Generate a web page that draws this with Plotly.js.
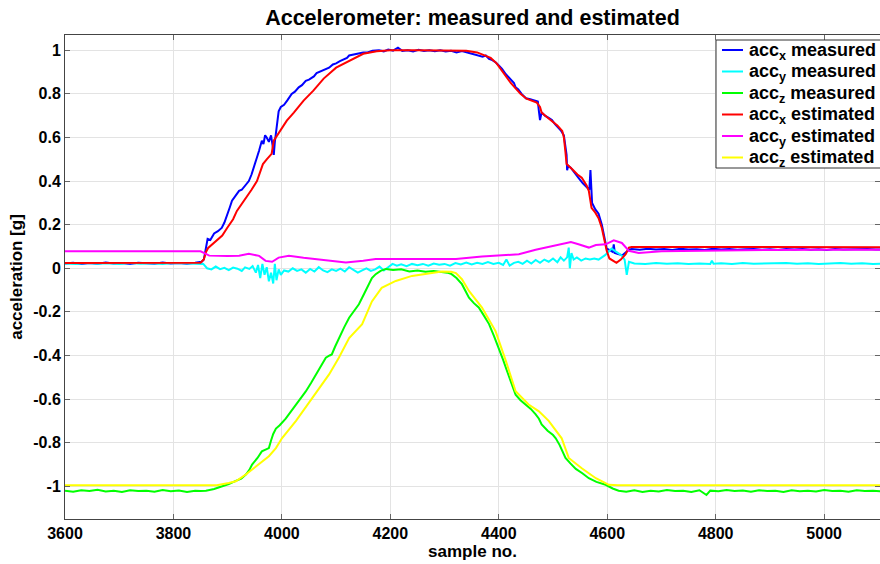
<!DOCTYPE html>
<html>
<head>
<meta charset="utf-8">
<script src="https://cdn.plot.ly/plotly-3.0.1.min.js"></script>
<style>
html,body{margin:0;padding:0;background:#fff;}
#chart{width:880px;height:564px;}
</style>
</head>
<body>
<div id="chart"></div>
<script>
// ---- accX measured (blue) ----
const axMeasX = [3600,3615,3630,3645,3660,3675,3690,3705,3720,3735,3750,3765,3780,3795,3810,3825,3840,3852,
 3856,3860,3863,3868,3875,3882,3889,3894,3899,3904,3908,3914,3921,3926,3932,3936,3939,3944,3948,3951,3954,3958,3963,3966,3969,3972,3976,3980,3983,3985,3987,3989,3992,3994,3998,4004,4010,4018,4024,4031,4037,4044,4050,4059,4064,4068,4076,4087,4094,4100,4107,4114,4120,4124,4133,4142,4150,4158,4167,4179,4188,4196,4205,4214,4222,4232,4242,4252,4262,4272,4282,4292,4302,4312,4322,4332,4342,4352,4362,4370,4376,4382,4388,4394,4400,4406,4413,4418,4424,4428,4431,4436,4442,4450,4458,4466,4472,4474,4476,4479,4485,4492,4498,4504,4510,4515,4520,4522,4525,4526,4528,4533,4540,4547,4555,4562,4567,4569,4570,4572,4578,4584,4590,4594,4597,4599,4603,4606,4610,4612,4614,4620,4628,4635,4640,4645,
 4660,4675,4690,4705,4720,4735,4750,4765,4780,4795,4810,4825,4840,4855,4870,4885,4900,4915,4930,4945,4960,4975,4990,5005,5020,5035,5050,5065,5080,5095,5110];
const axMeasY = [0.022,0.025,0.020,0.024,0.021,0.026,0.022,0.024,0.020,0.025,0.023,0.021,0.026,0.022,0.024,0.021,0.025,0.030,
 0.040,0.100,0.135,0.130,0.160,0.170,0.185,0.210,0.250,0.280,0.310,0.330,0.355,0.360,0.380,0.390,0.400,0.430,0.460,0.480,0.510,0.540,0.585,0.570,0.610,0.600,0.580,0.610,0.560,0.520,0.580,0.620,0.680,0.720,0.740,0.750,0.770,0.800,0.810,0.830,0.840,0.860,0.865,0.880,0.895,0.900,0.910,0.920,0.935,0.940,0.950,0.960,0.965,0.976,0.980,0.985,0.990,0.990,0.998,1.000,0.995,1.003,0.998,1.012,0.997,1.000,0.995,1.002,0.997,1.000,0.995,1.000,0.994,0.998,0.990,0.997,0.990,0.985,0.978,0.970,0.976,0.960,0.955,0.945,0.930,0.915,0.890,0.875,0.860,0.850,0.830,0.820,0.800,0.780,0.775,0.770,0.765,0.720,0.680,0.715,0.700,0.690,0.680,0.660,0.645,0.630,0.610,0.580,0.520,0.450,0.470,0.460,0.440,0.415,0.390,0.370,0.360,0.450,0.360,0.300,0.270,0.250,0.200,0.150,0.130,0.090,0.085,0.080,0.075,0.110,0.070,0.065,0.060,0.075,0.085,0.088,
 0.085,0.090,0.086,0.088,0.084,0.089,0.086,0.087,0.084,0.090,0.086,0.088,0.085,0.087,0.089,0.085,0.087,0.084,0.088,0.086,0.089,0.085,0.087,0.084,0.088,0.086,0.087,0.085,0.088,0.086,0.087];

// ---- accY measured (cyan) ----
const ayMeasX = [3600,3620,3640,3660,3680,3700,3720,3740,3760,3780,3800,3820,3840,3855,3862,3870,3878,3886,3894,3902,3910,3918,3926,3932,3940,3946,3952,3956,3960,3964,3968,3972,3976,3980,3984,3987,3990,3994,3998,4004,4012,4020,4028,4036,4044,4052,4060,4068,4076,4084,4092,4100,4108,4116,4124,4132,4140,4148,4156,4164,4172,4180,4188,4196,4204,4212,4220,4230,4240,4250,4260,4270,4280,4290,4300,4310,4320,4330,4340,4350,4360,4370,4380,4390,4400,4408,4414,4420,4428,4436,4444,4452,4460,4468,4476,4484,4492,4500,4508,4514,4520,4526,4529,4531,4534,4538,4544,4552,4560,4568,4576,4584,4590,4596,4602,4608,4614,4620,4626,4632,4636,4640,4650,4670,4690,4710,4730,4750,4770,4790,4793,4796,4810,4830,4850,4870,4890,4910,4930,4950,4970,4990,5010,5030,5050,5070,5090,5110];
const ayMeasY = [0.022,0.020,0.024,0.021,0.023,0.020,0.024,0.021,0.023,0.020,0.024,0.022,0.021,0.020,0.000,-0.005,0.008,-0.004,0.002,-0.008,0.003,-0.002,-0.012,0.004,-0.003,0.010,-0.020,0.015,-0.045,0.020,-0.030,0.005,-0.060,-0.020,-0.070,0.020,-0.055,-0.005,-0.030,-0.010,-0.015,0.000,-0.012,-0.005,-0.020,-0.003,-0.015,0.005,-0.010,-0.018,-0.005,-0.012,-0.002,-0.015,0.005,-0.008,-0.020,-0.010,0.000,-0.012,-0.005,0.008,-0.010,0.005,0.020,0.012,0.018,0.010,0.020,0.014,0.020,0.012,0.022,0.016,0.020,0.012,0.024,0.018,0.026,0.018,0.025,0.020,0.028,0.020,0.025,0.015,0.040,0.012,0.025,0.030,0.020,0.035,0.022,0.038,0.025,0.040,0.030,0.045,0.028,0.050,0.035,0.050,0.095,0.000,0.070,0.040,0.050,0.035,0.045,0.040,0.045,0.040,0.050,0.060,0.075,0.090,0.080,0.070,0.060,0.040,-0.030,0.030,0.022,0.020,0.024,0.021,0.023,0.020,0.022,0.020,0.035,0.021,0.023,0.020,0.024,0.021,0.022,0.020,0.024,0.021,0.023,0.020,0.022,0.024,0.021,0.023,0.020,0.022];

// ---- accZ measured (green) ----
const azMeasX = [3600,3615,3630,3645,3660,3675,3690,3705,3720,3735,3750,3765,3780,3795,3810,3825,3840,3850,3860,3875,3890,3902,3915,3925,3934,3940,3945,3950,3955,3963,3970,3976,3980,3984,3989,3996,4007,4016,4026,4035,4044,4054,4063,4072,4081,4088,4092,4098,4105,4115,4124,4133,4142,4151,4160,4166,4173,4182,4192,4205,4220,4235,4250,4265,4280,4290,4305,4313,4322,4332,4338,4345,4354,4363,4372,4382,4391,4400,4408,4415,4423,4431,4440,4450,4459,4468,4474,4479,4490,4500,4505,4512,4518,4523,4532,4542,4554,4566,4580,4597,4610,4621,4635,4650,4665,4680,4695,4710,4725,4740,4755,4770,4783,4790,4805,4820,4835,4850,4865,4880,4895,4910,4925,4940,4955,4970,4985,5000,5015,5030,5045,5060,5075,5090,5105];
const azMeasY = [-1.020,-1.025,-1.018,-1.022,-1.016,-1.024,-1.020,-1.026,-1.018,-1.022,-1.020,-1.025,-1.017,-1.023,-1.019,-1.026,-1.020,-1.022,-1.020,-1.012,-1.000,-0.990,-0.975,-0.965,-0.945,-0.925,-0.900,-0.885,-0.870,-0.840,-0.830,-0.825,-0.790,-0.760,-0.735,-0.720,-0.690,-0.660,-0.625,-0.600,-0.565,-0.525,-0.485,-0.445,-0.410,-0.400,-0.395,-0.360,-0.320,-0.270,-0.227,-0.195,-0.165,-0.120,-0.073,-0.045,-0.027,-0.012,-0.003,-0.008,-0.005,-0.015,-0.010,-0.016,-0.012,-0.015,-0.020,-0.027,-0.045,-0.073,-0.100,-0.135,-0.160,-0.180,-0.215,-0.256,-0.310,-0.365,-0.420,-0.470,-0.530,-0.580,-0.605,-0.625,-0.645,-0.670,-0.690,-0.716,-0.745,-0.765,-0.780,-0.810,-0.840,-0.870,-0.895,-0.920,-0.940,-0.963,-0.980,-0.993,-1.010,-1.020,-1.025,-1.018,-1.026,-1.020,-1.024,-1.017,-1.022,-1.020,-1.026,-1.018,-1.040,-1.020,-1.023,-1.017,-1.022,-1.019,-1.025,-1.018,-1.022,-1.020,-1.026,-1.018,-1.023,-1.020,-1.024,-1.017,-1.022,-1.020,-1.025,-1.018,-1.022,-1.020,-1.023];

// ---- accX estimated (red) ----
const axEstX = [3600,3700,3800,3850,3856,3860,3864,3872,3880,3890,3899,3910,3917,3926,3935,3944,3954,3960,3965,3972,3981,3985,3994,4009,4022,4040,4058,4077,4100,4124,4150,4175,4200,4250,4300,4340,4360,4376,4385,4396,4405,4414,4422,4431,4440,4451,4461,4470,4476,4479,4488,4498,4508,4517,4520,4523,4525,4535,4545,4553,4562,4566,4571,4578,4584,4590,4594,4599,4604,4610,4617,4625,4634,4640,4645,4700,4800,4900,5000,5110];
const axEstY = [0.024,0.024,0.024,0.025,0.040,0.075,0.093,0.110,0.125,0.150,0.185,0.225,0.263,0.295,0.323,0.360,0.400,0.440,0.478,0.500,0.525,0.585,0.620,0.677,0.714,0.769,0.815,0.870,0.920,0.952,0.984,0.995,1.000,1.000,1.000,0.998,0.990,0.976,0.965,0.940,0.910,0.875,0.850,0.825,0.800,0.778,0.770,0.760,0.740,0.714,0.695,0.677,0.655,0.630,0.600,0.530,0.478,0.455,0.430,0.415,0.380,0.355,0.277,0.255,0.230,0.185,0.140,0.080,0.045,0.035,0.025,0.040,0.065,0.095,0.098,0.098,0.097,0.098,0.097,0.097];

// ---- accY estimated (magenta) ----
const ayEstX = [3600,3700,3800,3850,3858,3866,3900,3921,3939,3958,3970,3982,3994,4013,4040,4074,4100,4118,4150,4173,4220,4270,4321,4369,4400,4437,4468,4498,4520,4533,4547,4566,4579,4597,4612,4627,4640,4658,4700,4800,4900,5000,5110];
const ayEstY = [0.078,0.078,0.078,0.078,0.068,0.058,0.056,0.057,0.066,0.057,0.034,0.030,0.049,0.057,0.048,0.038,0.031,0.027,0.035,0.042,0.042,0.041,0.042,0.054,0.058,0.064,0.085,0.100,0.110,0.120,0.110,0.095,0.107,0.110,0.128,0.116,0.080,0.070,0.078,0.082,0.084,0.085,0.085];

// ---- accZ estimated (yellow) ----
const azEstX = [3600,3700,3800,3880,3902,3915,3934,3958,3976,3989,4000,4026,4055,4087,4105,4124,4148,4166,4184,4210,4240,4271,4295,4312,4321,4332,4345,4369,4376,4394,4413,4431,4455,4474,4492,4516,4529,4553,4579,4603,4620,4700,4800,4900,5000,5110];
const azEstY = [-0.995,-0.995,-0.995,-0.995,-0.985,-0.977,-0.945,-0.900,-0.862,-0.825,-0.780,-0.700,-0.596,-0.487,-0.410,-0.320,-0.256,-0.152,-0.090,-0.058,-0.035,-0.025,-0.015,-0.016,-0.022,-0.050,-0.104,-0.180,-0.210,-0.288,-0.425,-0.564,-0.625,-0.656,-0.700,-0.780,-0.870,-0.917,-0.963,-0.993,-0.995,-0.995,-0.995,-0.995,-0.995,-0.995];

const seriesNames = ['acc<sub>x</sub> measured','acc<sub>y</sub> measured','acc<sub>z</sub> measured',
                     'acc<sub>x</sub> estimated','acc<sub>y</sub> estimated','acc<sub>z</sub> estimated'];
const seriesColors = ['#0000ff','#00ffff','#00ff00','#ff0000','#ff00ff','#ffff00'];

const xTickVals = [3600,3800,4000,4200,4400,4600,4800,5000];
const xTickText = ['3600','3800','4000','4200','4400','4600','4800','5000'];
const yTickVals = [-1,-0.8,-0.6,-0.4,-0.2,0,0.2,0.4,0.6,0.8,1];
const yTickText = ['-1','-0.8','-0.6','-0.4','-0.2','0','0.2','0.4','0.6','0.8','1'];

const xs = [axMeasX, ayMeasX, azMeasX, axEstX, ayEstX, azEstX];
const ys = [axMeasY, ayMeasY, azMeasY, axEstY, ayEstY, azEstY];

const traces = xs.map((x, i) => ({
  x: x, y: ys[i], type: 'scatter', mode: 'lines',
  name: seriesNames[i], showlegend: false,
  line: {color: seriesColors[i], width: 2}
}));

const FONT = 'Liberation Sans, Arial, sans-serif';
const axisCommon = {
  showgrid: true, gridcolor: '#e3e3e3', gridwidth: 1,
  zeroline: false,
  showline: true, linecolor: '#444', linewidth: 1, mirror: 'ticks',
  ticks: 'inside', ticklen: 5, tickcolor: '#666',
  tickfont: {family: FONT, size: 16, color: '#000', weight: 700}
};

// Plot area in pixels: x 65..880, y 35..519 -> helpers to paper coords for the legend box
const PL = 65, PW = 815, PB = 519, PH = 484;
const px2paperX = p => (p - PL) / PW;
const px2paperY = p => (PB - p) / PH;

const legendShapes = [{
  type: 'rect', xref: 'paper', yref: 'paper', layer: 'above',
  x0: px2paperX(716), x1: px2paperX(895), y0: px2paperY(168), y1: px2paperY(40),
  fillcolor: '#fff', line: {color: '#333', width: 1}
}];
const legendAnnotations = [];
seriesNames.forEach((name, i) => {
  const yc = 50 + i * 21.5;
  legendShapes.push({
    type: 'line', xref: 'paper', yref: 'paper', layer: 'above',
    x0: px2paperX(722), x1: px2paperX(743), y0: px2paperY(yc), y1: px2paperY(yc),
    line: {color: seriesColors[i], width: 2}
  });
  legendAnnotations.push({
    text: name, xref: 'paper', yref: 'paper', x: px2paperX(747), y: px2paperY(yc + 1),
    xanchor: 'left', yanchor: 'middle', showarrow: false,
    font: {family: FONT, size: 18, color: '#000', weight: 700}
  });
});

const layout = {
  width: 880, height: 564,
  margin: {l: PL, r: 0, t: 35, b: 45},
  paper_bgcolor: '#fff', plot_bgcolor: '#fff',
  font: {family: FONT, color: '#000'},
  title: {text: 'Accelerometer: measured and estimated', x: 0.5, xref: 'paper',
          y: 1 - 17 / 564, yref: 'container', yanchor: 'middle',
          font: {family: FONT, size: 21.5, color: '#000', weight: 700}},
  xaxis: Object.assign({}, axisCommon, {
    range: [3600, 5103], tickvals: xTickVals, ticktext: xTickText,
    title: {text: 'sample no.', font: {family: FONT, size: 17, color: '#000', weight: 700}, standoff: 2}
  }),
  yaxis: Object.assign({}, axisCommon, {
    range: [-1.15, 1.07], tickvals: yTickVals, ticktext: yTickText,
    title: {text: 'acceleration [g]', font: {family: FONT, size: 17, color: '#000', weight: 700}, standoff: 6}
  }),
  shapes: legendShapes,
  annotations: legendAnnotations,
  showlegend: false
};

Plotly.newPlot('chart', traces, layout, {staticPlot: true, displayModeBar: false});
</script>
</body>
</html>
